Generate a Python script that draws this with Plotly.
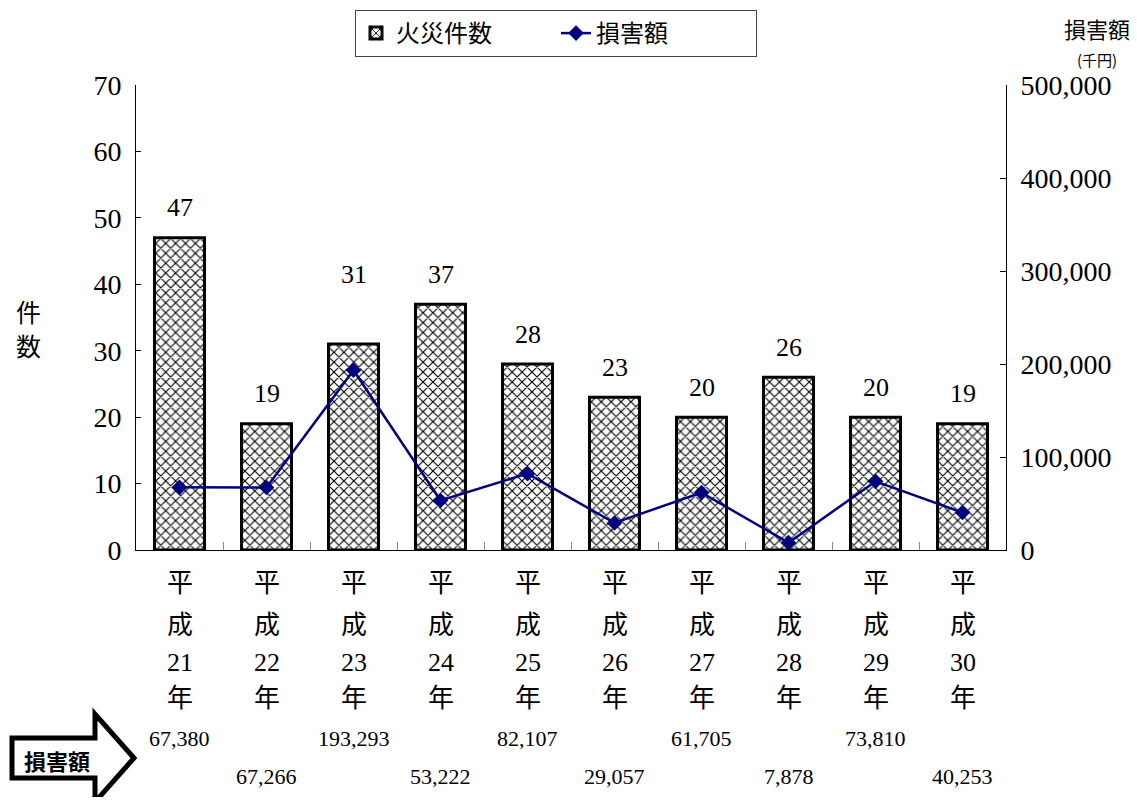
import plotly.graph_objects as go

# ---- data ----
categories = ["平成21年", "平成22年", "平成23年", "平成24年", "平成25年",
              "平成26年", "平成27年", "平成28年", "平成29年", "平成30年"]
era = "平成"
years = ["21", "22", "23", "24", "25", "26", "27", "28", "29", "30"]
fire_counts = [47, 19, 31, 37, 28, 23, 20, 26, 20, 19]
damage = [67380, 67266, 193293, 53222, 82107, 29057, 61705, 7878, 73810, 40253]
left_ticks = [0, 10, 20, 30, 40, 50, 60, 70]
right_ticks = [0, 100000, 200000, 300000, 400000, 500000]

SERIF = "Liberation Serif, Noto Sans CJK JP"
CJK = "Noto Sans CJK JP"
NAVY = "#000080"

# target plot-area pixel geometry in the screenshot; the page body adds an 8px offset
OFF = 8
L, R, T, B = 136, 1006, 85, 550
W, H = 1137 - OFF, 805 - 2 * OFF
def px(x):
    return (x - L) / (R - L)
def py(y):
    return (B - y) / (B - T)

fig = go.Figure()
fig.add_trace(go.Bar(
    x=categories, y=fire_counts, name="火災件数", width=0.575,
    marker=dict(color="white", line=dict(color="black", width=3),
                pattern=dict(shape="x", fgcolor="black", bgcolor="white",
                             size=7, solidity=0.3, fillmode="replace")),
    yaxis="y",
))
fig.add_trace(go.Scatter(
    x=categories, y=damage, name="損害額", mode="lines+markers",
    line=dict(color=NAVY, width=2.5),
    marker=dict(symbol="diamond", size=12, color=NAVY),
    yaxis="y2",
))

ann = []
# bar value labels
for i, (c, v) in enumerate(zip(categories, fire_counts)):
    extra = 40 if i == 2 else 0
    ann.append(dict(x=c, y=v, xref="x", yref="y", text=str(v), showarrow=False,
                    yshift=30 + extra, xanchor="center", yanchor="middle",
                    font=dict(family=SERIF, size=26, color="black")))
# category labels (vertical stacking)
for c, yr in zip(categories, years):
    for txt_, ypix in ((era[0], 583), (era[1], 625), (yr, 662), ("年", 698)):
        ann.append(dict(x=c, y=py(ypix), xref="x", yref="paper", text=txt_,
                        showarrow=False, xanchor="center", yanchor="middle",
                        font=dict(family=SERIF, size=26, color="black")))
# damage values below
for i, (c, d) in enumerate(zip(categories, damage)):
    ypix = 738 if i % 2 == 0 else 776
    ann.append(dict(x=c, y=py(ypix), xref="x", yref="paper", text=f"{d:,}",
                    showarrow=False, xanchor="center", yanchor="middle",
                    font=dict(family=SERIF, size=22, color="black")))

def txt(x, y, s, size, fam=CJK):
    ann.append(dict(x=px(x), y=py(y), xref="paper", yref="paper", text=s,
                    showarrow=False, xanchor="center", yanchor="middle",
                    font=dict(family=fam, size=size, color="black")))

# axis titles
txt(28, 311, "件", 25)
txt(28, 345, "数", 25)
txt(1097, 28, "損害額", 22)
txt(1097, 59, "(千円)", 15)
# arrow label
txt(57, 760, "<b>損害額</b>", 22)

# arrow shape
pts = [(12, 738), (95, 738), (95, 714), (134, 758), (95, 802), (95, 778), (12, 778)]
path = "M " + " L ".join(f"{px(x)},{py(y)}" for x, y in pts) + " Z"
shapes = [dict(type="path", xref="paper", yref="paper", path=path,
               line=dict(color="black", width=5), fillcolor="white", layer="below")]

fig.update_layout(
    width=W, height=H,
    margin=dict(l=L - OFF, r=W - (R - OFF), t=T - OFF, b=H - (B - OFF), autoexpand=False),
    paper_bgcolor="white", plot_bgcolor="white",
    bargap=0.425,
    showlegend=True,
    legend=dict(orientation="h", xref="container", yref="container",
                x=(556 - OFF) / W, xanchor="center", y=1 - (10 - OFF) / H, yanchor="top",
                bordercolor="#444", borderwidth=1, bgcolor="white",
                font=dict(family=CJK, size=24, color="black"),
                entrywidth=155, tracegroupgap=0),
    xaxis=dict(range=[-0.5, len(categories) - 0.5], showline=True, linecolor="black",
               linewidth=1, automargin=False,
               ticks="inside", tickson="boundaries", ticklen=8, tickcolor="#888",
               showticklabels=False, showgrid=False),
    yaxis=dict(range=[0, 70], tickvals=left_ticks, showline=True, linecolor="black",
               linewidth=1, ticks="inside", ticklen=5, tickcolor="black",
               showgrid=False, zeroline=False, automargin=False,
               tickfont=dict(family=SERIF, size=28, color="black"), ticklabelstandoff=8),
    yaxis2=dict(range=[0, 500000], tickvals=right_ticks, overlaying="y", side="right",
                showline=True, linecolor="black", linewidth=1, ticks="inside",
                ticklen=6, tickcolor="black", showgrid=False, zeroline=False,
                automargin=False,
                tickformat=",", tickfont=dict(family=SERIF, size=28, color="black"),
                ticklabelstandoff=8),
    annotations=ann,
    shapes=shapes,
)

fig.write_html("out.html")
